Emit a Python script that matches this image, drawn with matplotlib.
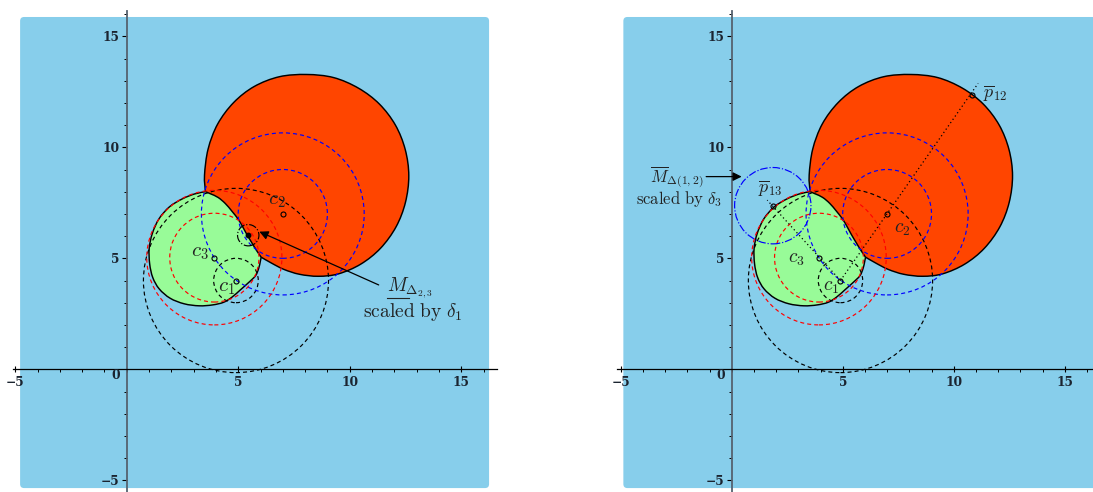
import numpy as np
import matplotlib
matplotlib.use('Agg')
import matplotlib.pyplot as plt
from matplotlib.path import Path
from matplotlib.patches import PathPatch, Circle, FancyBboxPatch
from matplotlib.ticker import FixedLocator, FixedFormatter

plt.rcParams['mathtext.fontset'] = 'cm'

# ---------------- data ----------------
# sites c1, c2, c3
site_x = [4.9, 7.0, 3.93]
site_y = [4.0, 7.0, 5.03]

# dashed circles around the sites
circle_site = [0, 0, 1, 1, 2, 2]
circle_r = [1.0, 4.15, 2.0, 3.65, 2.0, 3.03]
circle_color = ['black', 'black', 'blue', 'blue', 'red', 'red']

# orange region: outer boundary (P -> Q, clockwise over the top)
orange_outer_x = [3.53, 3.49, 3.65, 4.08, 4.80, 5.72, 6.85, 8.07, 9.28, 10.40,
                  11.33, 12.05, 12.49, 12.65, 12.50, 12.08, 11.38, 10.50, 9.50,
                  8.60, 7.75, 7.05, 6.50, 6.03]
orange_outer_y = [8.00, 8.75, 9.92, 11.05, 12.02, 12.74, 13.18, 13.28, 13.14, 12.66,
                  11.95, 11.00, 9.90, 8.72, 7.52, 6.42, 5.45, 4.74, 4.30,
                  4.19, 4.28, 4.50, 4.78, 5.05]
# boundary shared by orange and green (Q -> P)
shared_x = [6.03, 5.83, 5.61, 5.38, 5.20, 5.00, 4.72, 4.42, 4.10, 3.77, 3.53]
shared_y = [5.05, 5.34, 5.70, 6.09, 6.42, 6.76, 7.12, 7.47, 7.74, 7.90, 8.00]
# green region: outer boundary (P -> Q, counter-clockwise via the left)
green_outer_x = [3.53, 3.05, 2.50, 1.92, 1.45, 1.15, 1.01, 1.03, 1.17, 1.46, 1.95,
                 2.58, 3.25, 3.85, 4.35, 4.72, 5.10, 5.48, 5.78, 5.92, 5.99, 6.03]
green_outer_y = [8.00, 7.90, 7.68, 7.32, 6.78, 6.12, 5.45, 4.75, 4.13, 3.62, 3.20,
                 2.95, 2.86, 2.90, 3.02, 3.25, 3.58, 3.92, 4.22, 4.55, 4.85, 5.05]

# left panel extras
left_site_label_x = [4.48, 6.73, 3.29]
left_site_label_y = [3.72, 7.63, 5.30]
m23_center = (5.45, 6.04)
m23_radius = 0.48

# right panel extras
right_site_label_x = [4.50, 7.66, 2.93]
right_site_label_y = [3.72, 6.35, 5.00]
pbar_x = [10.81, 1.85]    # p12, p13
pbar_y = [12.36, 7.37]
pbar_labels = [r'$\overline{p}_{12}$', r'$\overline{p}_{13}$']
pbar_label_x = [11.86, 1.76]
pbar_label_y = [12.43, 8.15]
dotted_end_x = [11.10, 1.60]
dotted_end_y = [12.88, 7.62]
m12_radius = 1.72

site_labels = [r'$c_1$', r'$c_2$', r'$c_3$']
tick_vals = [-5, 5, 10, 15]
tick_labels = ['\u22125', '5', '10', '15']
minor_x_vals = list(range(-5, 17))
minor_y_vals = list(range(-5, 17))

SKY = '#87CEEB'
ORANGE = '#FF4500'
GREEN = '#98FB98'
TXT = '#222222'
TICKTXT = '#1b2430'


def smooth(x, y):
    p = np.column_stack([x, y]).astype(float)
    n = len(p)
    verts = [p[0]]
    for i in range(n - 1):
        p0 = p[i - 1] if i > 0 else p[i]
        p1 = p[i]
        p2 = p[i + 1]
        p3 = p[i + 2] if i + 2 < n else p[i + 1]
        verts += [p1 + (p2 - p0) / 6.0, p2 - (p3 - p1) / 6.0, p2]
    return np.array(verts)


def open_path(x, y):
    v = smooth(x, y)
    codes = [Path.MOVETO] + [Path.CURVE4] * (len(v) - 1)
    return Path(v, codes)


def closed_path(parts):
    verts = []
    for k, (x, y) in enumerate(parts):
        v = smooth(x, y)
        verts.append(v if k == 0 else v[1:])
    v = np.vstack(verts)
    codes = [Path.MOVETO] + [Path.CURVE4] * (len(v) - 1)
    return Path(v, codes)


def setup_axes(ax, xlim, ylim, xbounds, bg_box):
    ax.set_xlim(*xlim)
    ax.set_ylim(*ylim)
    ax.patch.set_visible(False)
    for s in ['top', 'right']:
        ax.spines[s].set_visible(False)
    ax.spines['left'].set_position(('data', 0))
    ax.spines['bottom'].set_position(('data', 0))
    ax.spines['bottom'].set_bounds(*xbounds)
    ax.spines['left'].set_bounds(-5.6, 16.15)
    ax.spines['left'].set_color('#55626f')
    ax.spines['left'].set_linewidth(1.3)
    ax.spines['bottom'].set_color('black')
    ax.spines['bottom'].set_linewidth(0.9)
    ax.xaxis.set_major_locator(FixedLocator(tick_vals))
    ax.xaxis.set_major_formatter(FixedFormatter(tick_labels))
    ax.yaxis.set_major_locator(FixedLocator(tick_vals))
    ax.yaxis.set_major_formatter(FixedFormatter(tick_labels))
    ax.xaxis.set_minor_locator(FixedLocator(minor_x_vals))
    ax.yaxis.set_minor_locator(FixedLocator(minor_y_vals))
    ax.tick_params(axis='x', which='major', direction='inout', length=5, width=0.8,
                   pad=2, colors='black')
    ax.tick_params(axis='x', which='minor', direction='out', length=2.2, width=0.7,
                   colors='black')
    ax.tick_params(axis='y', which='major', direction='out', length=3.5, width=0.8,
                   pad=1.5, colors='black')
    ax.tick_params(axis='y', which='minor', direction='out', length=2.2, width=0.7,
                   colors='black')
    for lab in ax.get_xticklabels() + ax.get_yticklabels():
        lab.set_fontfamily('DejaVu Serif')
        lab.set_fontweight('bold')
        lab.set_fontsize(8.8)
        lab.set_color(TICKTXT)
    ax.text(-0.28, -0.26, '0', ha='right', va='center', fontfamily='DejaVu Serif',
            fontweight='bold', fontsize=8.8, color=TICKTXT)
    bx, by, bw, bh = bg_box
    ax.add_patch(FancyBboxPatch((bx, by), bw, bh,
                                boxstyle='round,pad=0,rounding_size=0.18',
                                fc=SKY, ec='none', zorder=0))


def draw_regions(ax):
    ax.add_patch(PathPatch(closed_path([(orange_outer_x, orange_outer_y),
                                        (shared_x, shared_y)]),
                           fc=ORANGE, ec='none', zorder=1))
    ax.add_patch(PathPatch(closed_path([(green_outer_x, green_outer_y),
                                        (shared_x, shared_y)]),
                           fc=GREEN, ec='none', zorder=1))
    for (x, y) in [(orange_outer_x, orange_outer_y), (shared_x, shared_y),
                   (green_outer_x, green_outer_y)]:
        ax.add_patch(PathPatch(open_path(x, y), fc='none', ec='black', lw=1.05,
                               zorder=2))
    for si, r, c in zip(circle_site, circle_r, circle_color):
        ax.add_patch(Circle((site_x[si], site_y[si]), r, fc='none', ec=c, lw=0.85,
                            ls=(0, (3.4, 2.6)), zorder=3))


W, H = 1093, 492
fig = plt.figure(figsize=(W / 100, H / 100), dpi=100)
sx, sy = 22.3, 22.2
oyL = 369.3
ylim = (-(H - oyL) / sy, oyL / sy)

# ---------- left panel ----------
axL = fig.add_axes([0, 0, 546 / W, 1])
oxL = 126.7
setup_axes(axL, (-oxL / sx, (546 - oxL) / sx), ylim, (-5.08, 16.6),
           (-4.78, -5.35, 21.03, 21.22))
draw_regions(axL)
axL.plot(site_x, site_y, 'o', ms=3.6, mfc='none', mec='black', mew=0.8, zorder=4)
for lx, ly, s in zip(left_site_label_x, left_site_label_y, site_labels):
    axL.text(lx, ly, s, ha='center', va='center', fontsize=15, color=TXT, zorder=5)
axL.add_patch(Circle(m23_center, m23_radius, fc='none', ec='black', lw=0.85,
                     ls='-.', zorder=3))
axL.plot([m23_center[0]], [m23_center[1]], 'o', ms=3.2, color='black', zorder=4)
axL.annotate('', xy=(5.95, 6.2), xytext=(11.3, 3.8),
             arrowprops=dict(arrowstyle='-|>', color='black', lw=0.9,
                             mutation_scale=13, shrinkA=0, shrinkB=0), zorder=5)
mx0, mby = 11.66, 3.52
axL.text(mx0, mby, r'$M_{\Delta_{2,3}}$', ha='left', va='baseline', fontsize=14,
         color=TXT, zorder=5)
tM = axL.text(mx0, mby, r'$M$', ha='left', va='baseline', fontsize=14, alpha=0)
axL.text(10.6, 2.37, r'$\mathrm{scaled\ by}\ \delta_1$', ha='left', va='baseline',
         fontsize=14, color=TXT, zorder=5)

# ---------- right panel ----------
axR = fig.add_axes([546 / W, 0, (W - 546) / W, 1])
sxR = 22.2
oxR = 731.7
setup_axes(axR, ((546 - oxR) / sxR, (W - oxR) / sxR), ylim, (-5.18, 16.4),
           (-4.88, -5.35, 21.6, 21.22))
draw_regions(axR)
for ex, ey in zip(dotted_end_x, dotted_end_y):
    axR.plot([site_x[0], ex], [site_y[0], ey], ls=(0, (1, 2.2)), color='black',
             lw=0.9, zorder=4)
axR.add_patch(Circle((pbar_x[1], pbar_y[1]), m12_radius, fc='none', ec='blue',
                     lw=0.85, ls='-.', zorder=3))
axR.plot(site_x + pbar_x, site_y + pbar_y, 'o', ms=3.6, mfc='none', mec='black',
         mew=0.8, zorder=4)
for lx, ly, s in zip(right_site_label_x, right_site_label_y, site_labels):
    axR.text(lx, ly, s, ha='center', va='center', fontsize=14, color=TXT, zorder=5)
for lx, ly, s in zip(pbar_label_x, pbar_label_y, pbar_labels):
    axR.text(lx, ly, s, ha='center', va='center', fontsize=13, color=TXT, zorder=5)
axR.annotate('', xy=(0.45, 8.68), xytext=(-1.15, 8.68),
             arrowprops=dict(arrowstyle='-|>', color='black', lw=0.9,
                             mutation_scale=13, shrinkA=0, shrinkB=0), zorder=5)
axR.text(-3.68, 8.42, r'$\overline{M}_{\Delta(1,2)}$', ha='left', va='baseline',
         fontsize=12, color=TXT, zorder=5)
axR.text(-4.31, 7.45, r'$\mathrm{scaled\ by}\ \delta_3$', ha='left', va='baseline',
         fontsize=12, color=TXT, zorder=5)

# underline under M (left annotation)
fig.canvas.draw()
r = fig.canvas.get_renderer()
bb = tM.get_window_extent(renderer=r)
inv = axL.transData.inverted()
(ux0, uy0), (ux1, _) = inv.transform([(bb.x0, bb.y0 - 2.5), (bb.x1, bb.y0)])
axL.plot([ux0, ux1], [uy0, uy0], color=TXT, lw=0.8, zorder=5)

fig.savefig('out.png', dpi=100)
